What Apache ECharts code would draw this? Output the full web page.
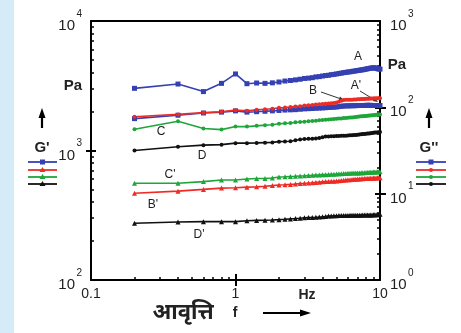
<!DOCTYPE html>
<html><head><meta charset="utf-8">
<script src="https://cdn.jsdelivr.net/npm/echarts@6/dist/echarts.min.js"></script>
<style>html,body{margin:0;padding:0;background:#fff}#c{width:461px;height:333px}</style>
</head><body><div id="c"></div>
<script>
// Frequency (Hz)
const freq = [0.2,0.4,0.6,0.8,1.0,1.2,1.4,1.6,1.8,2.0,2.2,2.4,2.6,2.8,3.0,3.2,3.4,3.6,3.8,4.0,4.2,4.4,4.6,4.8,5.0,5.2,5.4,5.6,5.8,6.0,6.2,6.4,6.6,6.8,7.0,7.2,7.4,7.6,7.8,8.0,8.2,8.4,8.6,8.8,9.0,9.2,9.4,9.6,9.8,10];
// G' (left axis, Pa)
const gA = [3020,3260,2850,3300,3900,3280,3320,3300,3330,3380,3440,3470,3510,3550,3600,3620,3650,3700,3720,3760,3790,3810,3850,3870,3900,3930,3960,3990,4010,4040,4050,4080,4100,4120,4150,4160,4190,4200,4230,4250,4280,4300,4320,4340,4350,4340,4320,4290,4260,4250];
const gB = [1820,1900,1960,1990,2050,2030,2060,2080,2100,2140,2150,2170,2190,2200,2230,2240,2250,2270,2280,2290,2300,2310,2320,2330,2350,2380,2420,2450,2460,2460,2470,2470,2480,2480,2490,2490,2500,2500,2500,2510,2510,2510,2520,2520,2520,2530,2520,2530,2530,2530];
const gC = [1460,1680,1480,1450,1530,1530,1550,1570,1580,1610,1620,1630,1650,1660,1670,1680,1690,1700,1710,1720,1730,1735,1740,1750,1760,1765,1770,1780,1785,1790,1795,1800,1810,1815,1820,1830,1835,1840,1845,1850,1855,1860,1865,1870,1875,1880,1885,1890,1895,1900];
const gD = [1000,1070,1100,1110,1140,1140,1145,1150,1155,1170,1175,1180,1200,1215,1225,1230,1235,1240,1250,1265,1280,1285,1290,1290,1295,1295,1300,1300,1300,1305,1310,1310,1315,1320,1325,1330,1335,1340,1340,1345,1350,1355,1360,1365,1370,1375,1380,1380,1385,1390];
// G'' (right axis, Pa)
const g2A = [74,81,86,88,91,88,89,90,91,92,93,93.5,94,95,96,96.5,97,97.5,98,98.5,99,99.5,100,100.5,101,102,103,103.5,104,104,104,104.5,104.5,104.5,105,105,105,105,105,105.5,105.5,105.5,105.5,105,105,105,105,105,105,105];
const g2C = [13.2,13.2,13.8,14.4,14.4,14.8,15.0,15.0,15.2,15.6,15.7,15.8,15.9,16.0,16.1,16.2,16.3,16.4,16.5,16.6,16.6,16.7,16.8,16.8,16.9,17.0,17.0,17.1,17.1,17.2,17.2,17.3,17.3,17.3,17.4,17.4,17.5,17.5,17.5,17.6,17.6,17.7,17.7,17.7,17.8,17.8,17.8,17.9,17.9,17.9];
const g2B = [10.1,10.7,11.2,11.6,11.7,11.9,12.0,12.2,12.4,12.6,12.7,12.8,12.9,13.1,13.2,13.3,13.4,13.5,13.6,13.7,13.8,13.8,13.9,13.9,14.0,14.1,14.2,14.3,14.4,14.5,14.5,14.6,14.7,14.7,14.8,14.8,14.9,14.9,15.0,15.0,15.0,15.1,15.1,15.1,15.2,15.2,15.2,15.3,15.3,15.3];
const g2D = [4.55,4.70,4.74,4.74,4.74,4.85,4.90,4.92,4.95,5.00,5.05,5.10,5.15,5.20,5.25,5.28,5.30,5.32,5.35,5.40,5.45,5.50,5.52,5.55,5.56,5.57,5.58,5.58,5.60,5.60,5.61,5.62,5.62,5.63,5.63,5.64,5.64,5.65,5.65,5.65,5.66,5.66,5.67,5.67,5.68,5.68,5.69,5.70,5.72,5.78];
// tick values
const xMinor = [0.2,0.3,0.4,0.5,0.6,0.7,0.8,0.9,2,3,4,5,6,7,8,9];
const xMajor = [1];
const yLMinor = [200,300,400,500,600,700,800,900,2000,3000,4000,5000,6000,7000,8000,9000];
const yLMajor = [1000];
const yRMinor = [2,3,4,5,6,7,8,9,20,30,40,50,60,70,80,90,200,300,400,500,600,700,800,900];
const yRMajor = [10,100];

const BLUE='#3540b2', RED='#ee2b25', GREEN='#1fa63a', BLACK='#111111';
const FONT='Liberation Sans, Arial, sans-serif';
const pairs = v => freq.map((f,i)=>[f, v[i]]);
const expo = v => String(Math.round(Math.log10(v)));

function ln(xIdx,yIdx,data,color,symbol,size,name){
  return {type:'line', name, xAxisIndex:xIdx, yAxisIndex:yIdx, data:pairs(data),
    symbol, symbolSize:size, showSymbol:true, silent:true,
    lineStyle:{color,width:1.6}, itemStyle:{color,borderWidth:0}, animation:false};
}
const noLine={show:false}, noLbl={show:false}, noTick={show:false}, noSplit={show:false};
const axLine={show:true, lineStyle:{color:'#000', width:2}};
const tenLbl = (margin)=>({show:true, fontSize:15, margin, color:'#222', fontFamily:FONT,
  verticalAlign:'top', lineHeight:10, formatter:()=>'10'});
const expLbl = (margin)=>({show:true, fontSize:10, margin, color:'#222', fontFamily:FONT,
  verticalAlign:'bottom', lineHeight:14, formatter:expo});

const chart = echarts.init(document.getElementById('c'), null, {renderer:'canvas'});
const option = {
  backgroundColor:'#ffffff',
  animation:false,
  grid:{left:91, right:81, top:21, bottom:53},
  xAxis:[
    {type:'log', logBase:10, min:0.1, max:10, position:'bottom', axisLine:axLine,
     axisTick:{show:true, inside:true, length:3, customValues:xMinor, lineStyle:{color:'#000',width:1.5}},
     axisLabel:{show:true, fontSize:14, margin:7, color:'#222', fontFamily:FONT,
       formatter:v=>String(v)}, splitLine:noSplit},
    {type:'log', logBase:10, min:0.1, max:10, position:'bottom', axisLine:noLine, axisLabel:noLbl,
     axisTick:{show:true, inside:false, length:6, customValues:xMajor, lineStyle:{color:'#000',width:2}}, splitLine:noSplit},
    {type:'log', logBase:10, min:0.1, max:10, position:'bottom', axisLine:noLine, axisLabel:noLbl,
     axisTick:{show:true, inside:true, length:6, customValues:xMajor, lineStyle:{color:'#000',width:2}}, splitLine:noSplit},
    {type:'log', logBase:10, min:0.1, max:10, position:'top', axisLine:axLine, axisLabel:noLbl, axisTick:noTick, splitLine:noSplit}
  ],
  yAxis:[
    {type:'log', logBase:10, min:100, max:10000, position:'left', axisLine:axLine,
     axisTick:{show:true, inside:true, length:3, customValues:yLMinor, lineStyle:{color:'#000',width:1.5}},
     axisLabel:tenLbl(16), splitLine:noSplit},
    {type:'log', logBase:10, min:100, max:10000, position:'left', axisLine:noLine, axisLabel:noLbl,
     axisTick:{show:true, inside:false, length:5, customValues:yLMajor, lineStyle:{color:'#000',width:2}}, splitLine:noSplit},
    {type:'log', logBase:10, min:100, max:10000, position:'left', axisLine:noLine, axisLabel:noLbl,
     axisTick:{show:true, inside:true, length:5, customValues:yLMajor, lineStyle:{color:'#000',width:2}}, splitLine:noSplit},
    {type:'log', logBase:10, min:100, max:10000, position:'left', axisLine:noLine, axisTick:noTick,
     axisLabel:expLbl(9), splitLine:noSplit},
    {type:'log', logBase:10, min:1, max:1000, position:'right', axisLine:axLine,
     axisTick:{show:true, inside:true, length:3, customValues:yRMinor, lineStyle:{color:'#000',width:1.5}},
     axisLabel:tenLbl(10), splitLine:noSplit},
    {type:'log', logBase:10, min:1, max:1000, position:'right', axisLine:noLine, axisLabel:noLbl,
     axisTick:{show:true, inside:false, length:6, customValues:yRMajor, lineStyle:{color:'#000',width:2}}, splitLine:noSplit},
    {type:'log', logBase:10, min:1, max:1000, position:'right', axisLine:noLine, axisLabel:noLbl,
     axisTick:{show:true, inside:true, length:5, customValues:yRMajor, lineStyle:{color:'#000',width:2}}, splitLine:noSplit},
    {type:'log', logBase:10, min:1, max:1000, position:'right', axisLine:noLine, axisTick:noTick,
     axisLabel:expLbl(28), splitLine:noSplit}
  ],
  series:[
    ln(0,4,g2A,BLUE,'rect',5,"A'"),
    ln(0,0,gA,BLUE,'rect',5,'A'),
    ln(0,0,gB,RED,'circle',4,'B'),
    ln(0,0,gC,GREEN,'circle',4,'C'),
    ln(0,0,gD,BLACK,'circle',4,'D'),
    ln(0,4,g2C,GREEN,'triangle',5,"C'"),
    ln(0,4,g2B,RED,'triangle',5,"B'"),
    ln(0,4,g2D,BLACK,'triangle',5,"D'")
  ],
  graphic:[]
};

const g = option.graphic;
g.push({type:'rect', shape:{x:0,y:0,width:14,height:333}, style:{fill:'#d6ebf8'}, z:-10});
function txt(x,y,text,size,bold,fam){
  g.push({type:'text', x, y, style:{text, fill:'#222', font:(bold?'bold ':'')+size+'px '+(fam||FONT), align:'center', verticalAlign:'middle'}});
}
function arrowV(x,yTop,yBot){
  g.push({type:'line', shape:{x1:x,y1:yBot,x2:x,y2:yTop+6}, style:{stroke:'#000',lineWidth:2.2}});
  g.push({type:'polygon', shape:{points:[[x,yTop],[x-3.5,yTop+10],[x+3.5,yTop+10]]}, style:{fill:'#000'}});
}
function arrowTo(x1,y1,x2,y2,head){
  const a=Math.atan2(y2-y1,x2-x1), h=head||5, w=2;
  const bx=x2-h*Math.cos(a), by=y2-h*Math.sin(a);
  g.push({type:'line', shape:{x1,y1,x2:bx,y2:by}, style:{stroke:'#333',lineWidth:1}});
  g.push({type:'polygon', shape:{points:[[x2,y2],[bx+w*Math.sin(a),by-w*Math.cos(a)],[bx-w*Math.sin(a),by+w*Math.cos(a)]]}, style:{fill:'#333'}});
}
function legendLine(x1,x2,y,color,symbol){
  g.push({type:'line', shape:{x1,y1:y,x2,y2:y}, style:{stroke:color,lineWidth:1.8}});
  const cx=(x1+x2)/2;
  if(symbol==='rect') g.push({type:'rect', shape:{x:cx-2.5,y:y-2.5,width:5,height:5}, style:{fill:color}});
  else if(symbol==='triangle') g.push({type:'polygon', shape:{points:[[cx,y-3],[cx-3,y+2],[cx+3,y+2]]}, style:{fill:color}});
  else g.push({type:'circle', shape:{cx,cy:y,r:2}, style:{fill:color}});
}
txt(73,86,'Pa',15,true);
txt(397,65,'Pa',15,true);
arrowV(42,108,128);
arrowV(429,108,128);
txt(42,148,"G'",15,true);
txt(429,148,"G''",15,true);
legendLine(28,57,162,BLUE,'rect');
legendLine(28,57,170,RED,'triangle');
legendLine(28,57,177,GREEN,'triangle');
legendLine(28,57,184,BLACK,'triangle');
legendLine(416,446,162,BLUE,'rect');
legendLine(416,446,170,RED,'circle');
legendLine(416,446,177,GREEN,'circle');
legendLine(416,446,184,BLACK,'circle');
txt(358,57,'A',12,false);
txt(313,91,'B',12,false);
txt(356,86,"A'",12,false);
txt(161,132,'C',12,false);
txt(202,156,'D',12,false);
txt(170,175,"C'",12,false);
txt(153,205,"B'",12,false);
txt(199,235,"D'",12,false);
arrowTo(321,92,344,100,5);
arrowTo(360,91,378,102,5);
txt(307,295,'Hz',14,true);
txt(183,313,'आवृत्ति',22,true,'Noto Sans, sans-serif');
txt(235,313,'f',14,true);
g.push({type:'line', shape:{x1:263,y1:313,x2:302,y2:313}, style:{stroke:'#000',lineWidth:2}});
g.push({type:'polygon', shape:{points:[[311,313],[300,309.5],[300,316.5]]}, style:{fill:'#000'}});

chart.setOption(option);
</script></body></html>
